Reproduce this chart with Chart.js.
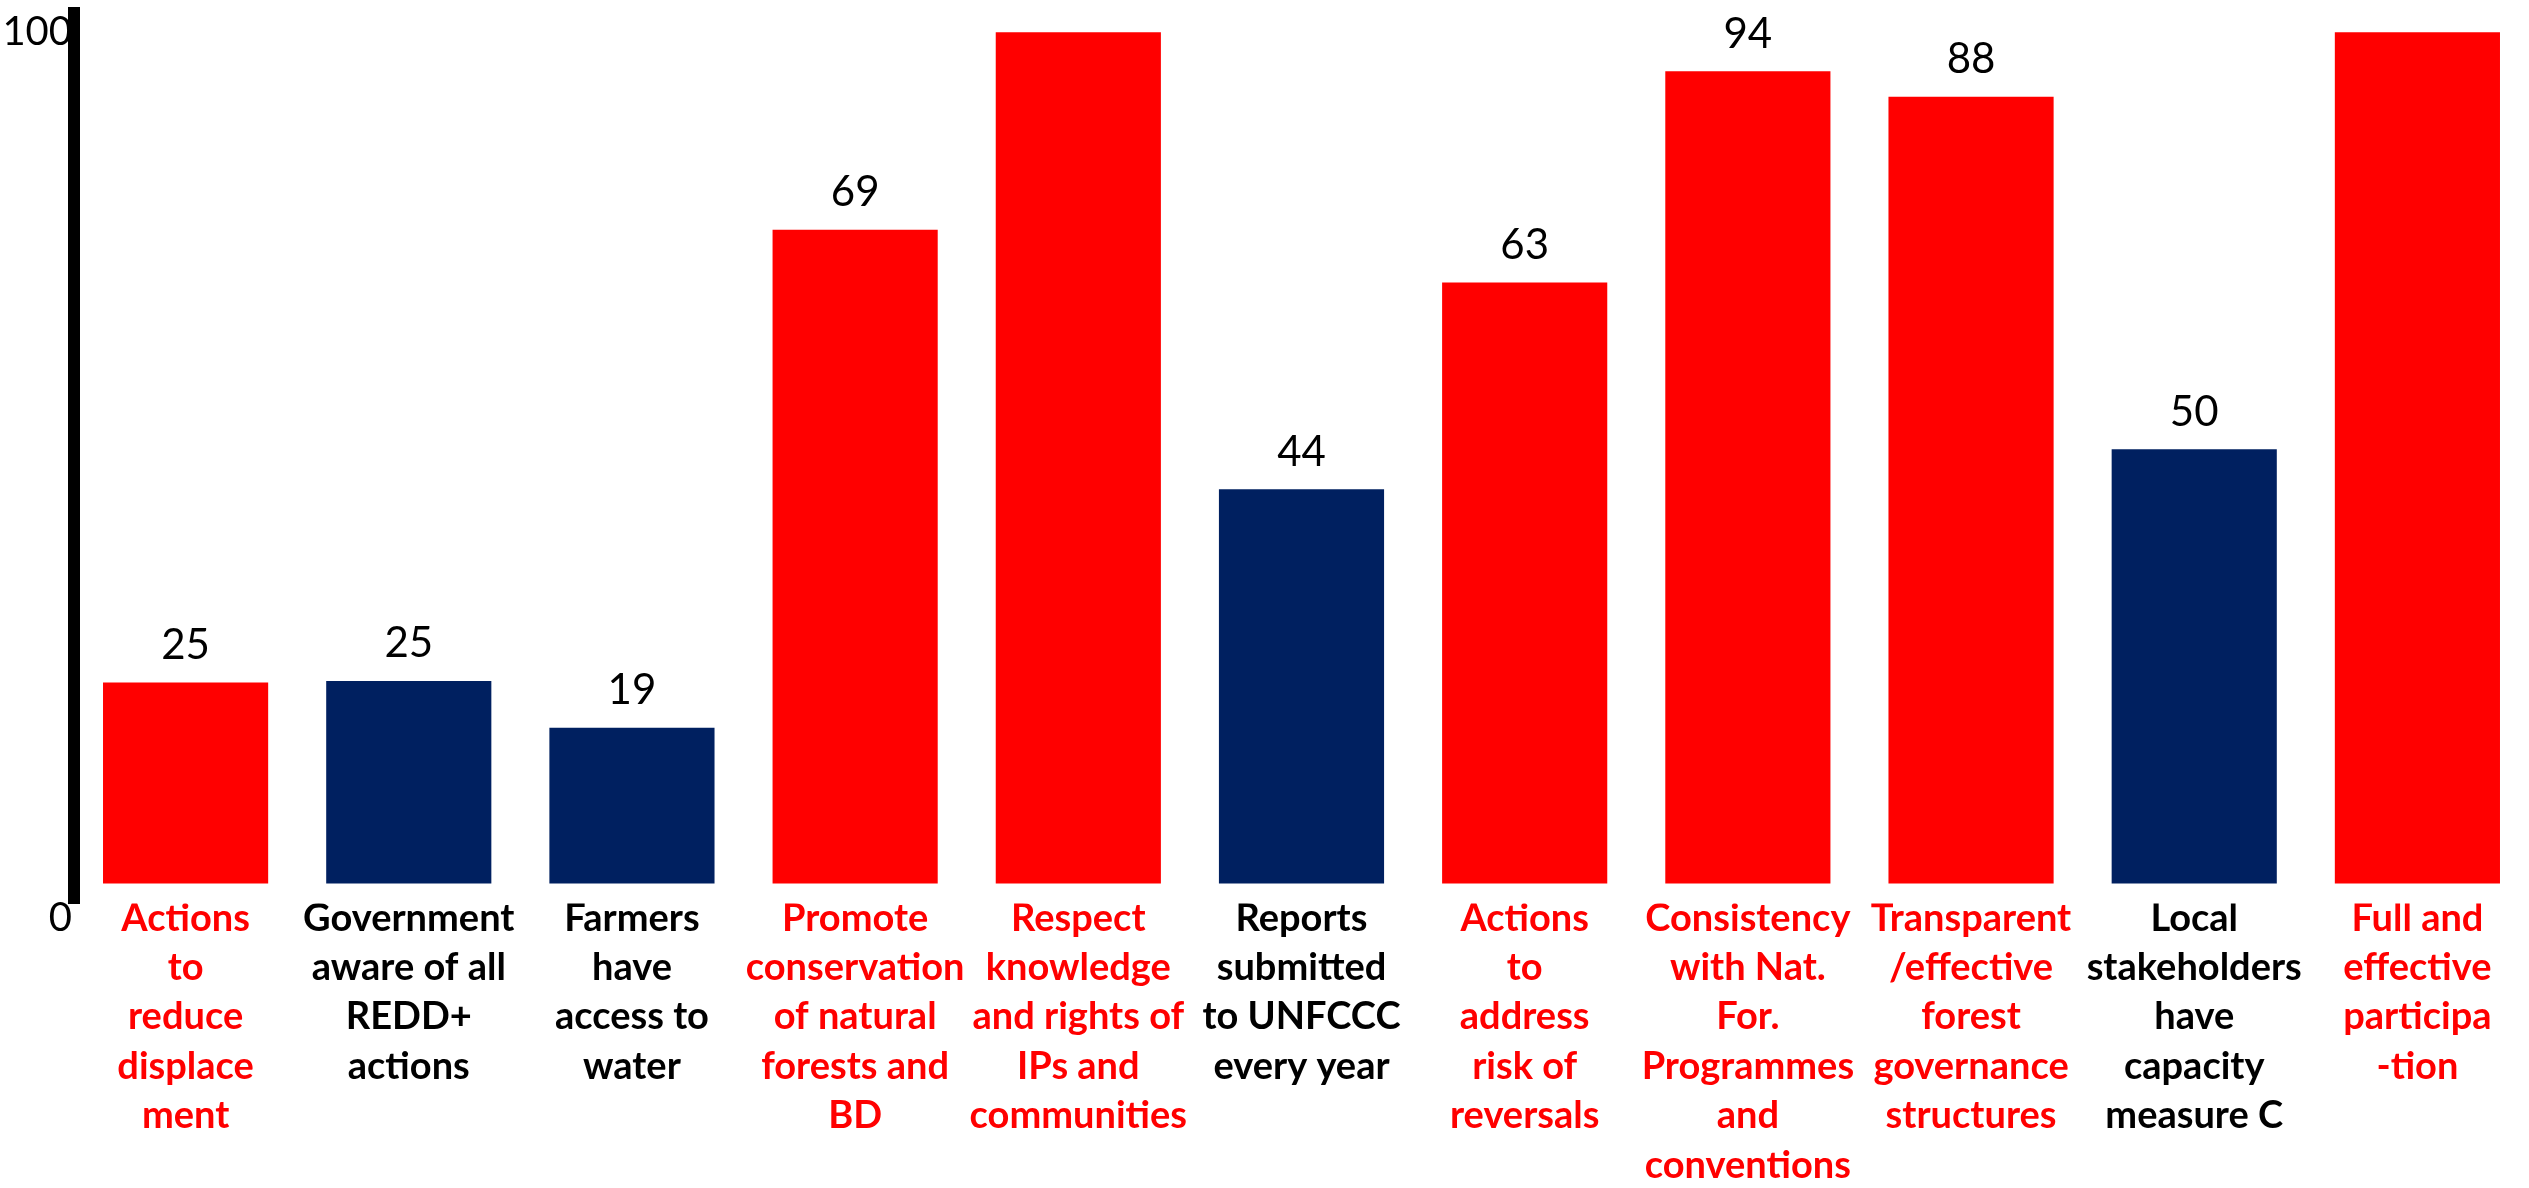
<!DOCTYPE html>
<html>
<head>
<meta charset="utf-8">
<script src="https://cdn.jsdelivr.net/npm/chart.js@4.4.1/dist/chart.umd.min.js"></script>
<style>
  html, body { margin: 0; padding: 0; background: #fff; }
  #wrap { width: 2529px; height: 1188px; position: relative; }
</style>
</head>
<body>
<div id="wrap"><canvas id="safeguardChart"></canvas></div>
<script>
// categories, one array of lines per bar
const categories = [
  ['Actions', 'to', 'reduce', 'displace', 'ment'],
  ['Government', 'aware of all', 'REDD+', 'actions'],
  ['Farmers', 'have', 'access to', 'water'],
  ['Promote', 'conservation', 'of natural', 'forests and', 'BD'],
  ['Respect', 'knowledge', 'and rights of', 'IPs and', 'communities'],
  ['Reports', 'submitted', 'to UNFCCC', 'every year'],
  ['Actions', 'to', 'address', 'risk of', 'reversals'],
  ['Consistency', 'with Nat.', 'For.', 'Programmes', 'and', 'conventions'],
  ['Transparent', '/effective', 'forest', 'governance', 'structures'],
  ['Local', 'stakeholders', 'have', 'capacity', 'measure C'],
  ['Full and', 'effective', 'participa', '-tion']
];
// bar heights as drawn in the picture (0-100 scale)
const barHeights = [23.6, 23.8, 18.3, 76.8, 100, 46.3, 70.6, 95.4, 92.4, 51, 100];
// numbers printed above the bars
const valueLabels = ['25', '25', '19', '69', '', '44', '63', '94', '88', '50', ''];
// 'r' = red group, 'b' = blue group
const groups = ['r', 'b', 'b', 'r', 'r', 'b', 'r', 'r', 'r', 'b', 'r'];
const yTicks = [0, 100];

const RED = '#FF0000';
const NAVY = '#002060';
const barColors = groups.map(g => g === 'r' ? RED : NAVY);
const labelColors = groups.map(g => g === 'r' ? RED : '#000000');

const valueLabelPlugin = {
  id: 'valueLabels',
  afterDatasetsDraw(chart) {
    const ctx = chart.ctx;
    const meta = chart.getDatasetMeta(0);
    ctx.save();
    ctx.font = '42px Lato';
    ctx.fillStyle = '#000';
    ctx.textAlign = 'center';
    ctx.textBaseline = 'middle';
    meta.data.forEach((bar, i) => {
      if (!valueLabels[i]) return;
      ctx.fillText(valueLabels[i], bar.x, bar.y - 37);
    });
    ctx.restore();
  }
};

new Chart(document.getElementById('safeguardChart'), {
  type: 'bar',
  data: {
    labels: categories,
    datasets: [{
      data: barHeights,
      backgroundColor: barColors,
      borderWidth: 0,
      barPercentage: 0.74,
      categoryPercentage: 1
    }]
  },
  options: {
    responsive: true,
    maintainAspectRatio: false,
    animation: false,
    layout: { padding: { top: 13, right: 0, bottom: 8, left: 0 } },
    plugins: {
      legend: { display: false },
      tooltip: { enabled: false }
    },
    scales: {
      x: {
        grid: { display: false, drawTicks: false },
        border: { display: false },
        ticks: {
          autoSkip: false,
          maxRotation: 0,
          minRotation: 0,
          padding: -10,
          color: ctx => labelColors[ctx.index],
          font: { family: 'Lato', weight: 'bold', size: 38, lineHeight: 1.3 }
        }
      },
      y: {
        min: -2.36,
        max: 102.25,
        grid: { display: false, drawTicks: false },
        border: { display: true, color: '#000', width: 12 },
        afterBuildTicks: scale => { scale.ticks = yTicks.map(v => ({ value: v })); },
        afterFit: scale => {
          scale.width = 74;
          scale.paddingTop = 0;
          scale.paddingBottom = 0;
        },
        ticks: {
          padding: 2,
          color: '#000',
          font: { family: 'Lato', size: 40, lineHeight: 1.75 },
          callback: v => v === 0 ? ['', '0'] : String(v)
        }
      }
    }
  },
  plugins: [valueLabelPlugin]
});
</script>
</body>
</html>
